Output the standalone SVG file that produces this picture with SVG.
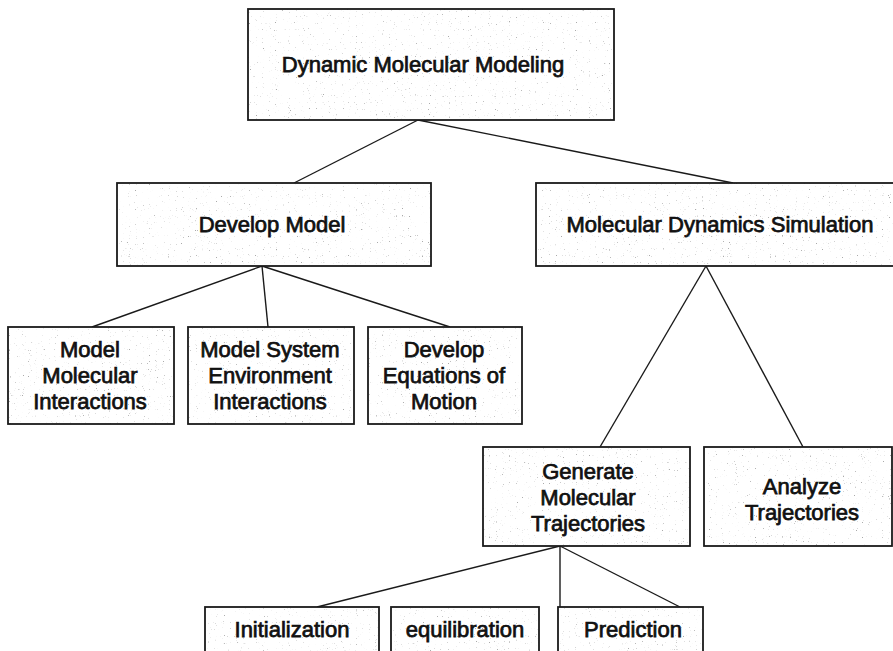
<svg xmlns="http://www.w3.org/2000/svg" width="893" height="651" viewBox="0 0 893 651">
  <defs>
    <filter id="speck" x="0" y="0" width="100%" height="100%">
      <feTurbulence type="fractalNoise" baseFrequency="0.85" numOctaves="1" seed="7" result="n"/>
      <feColorMatrix in="n" type="matrix" values="0 0 0 0 0.4  0 0 0 0 0.4  0 0 0 0 0.4  9 0 0 0 -6.1" result="d"/>
      <feComposite in="d" in2="SourceAlpha" operator="in" result="dc"/>
      <feMerge><feMergeNode in="SourceGraphic"/><feMergeNode in="dc"/></feMerge>
    </filter>
  </defs>
  <style>
    .bg { fill: #ffffff; filter: url(#speck); }
    .box { fill: none; stroke: #1a1a1a; stroke-width: 1.8; }
    .lbl { font-family: "Liberation Sans", Arial, Helvetica, sans-serif; font-size: 22px; fill: #111; stroke: #111; stroke-width: 0.75; text-anchor: middle; }
    .conn { stroke: #1a1a1a; stroke-width: 1.4; fill: none; }
  </style>
  <rect x="0" y="0" width="893" height="651" fill="#ffffff"/>

  <g id="connectors">
    <line class="conn" x1="418" y1="120" x2="294" y2="183"/>
    <line class="conn" x1="418" y1="120" x2="733" y2="183"/>
    <line class="conn" x1="262" y1="266" x2="92" y2="327"/>
    <line class="conn" x1="262" y1="266" x2="268" y2="327"/>
    <line class="conn" x1="262" y1="266" x2="450" y2="327"/>
    <line class="conn" x1="706" y1="266" x2="600" y2="447"/>
    <line class="conn" x1="706" y1="266" x2="803" y2="447"/>
    <line class="conn" x1="560" y1="546" x2="317" y2="607"/>
    <line class="conn" x1="560" y1="546" x2="560" y2="607"/>
    <line class="conn" x1="560" y1="546" x2="680" y2="607"/>
  </g>

  <g id="dynamic-molecular-modeling">
    <rect class="bg" x="248" y="9" width="366" height="111"/>
    <rect class="box" x="248" y="9" width="366" height="111"/>
    <text class="lbl" x="423" y="72">Dynamic Molecular Modeling</text>
  </g>

  <g id="develop-model">
    <rect class="bg" x="117" y="183" width="314" height="83"/>
    <rect class="box" x="117" y="183" width="314" height="83"/>
    <text class="lbl" x="272" y="232">Develop Model</text>
  </g>

  <g id="md-simulation">
    <rect class="bg" x="536" y="183" width="370" height="83"/>
    <rect class="box" x="536" y="183" width="370" height="83"/>
    <text class="lbl" x="720" y="232">Molecular Dynamics Simulation</text>
  </g>

  <g id="model-molecular-interactions">
    <rect class="bg" x="8" y="327" width="166" height="97"/>
    <rect class="box" x="8" y="327" width="166" height="97"/>
    <text class="lbl" x="90" y="357">Model</text>
    <text class="lbl" x="90" y="383">Molecular</text>
    <text class="lbl" x="90" y="409">Interactions</text>
  </g>

  <g id="model-system-environment">
    <rect class="bg" x="188" y="327" width="166" height="97"/>
    <rect class="box" x="188" y="327" width="166" height="97"/>
    <text class="lbl" x="270" y="357">Model System</text>
    <text class="lbl" x="270" y="383">Environment</text>
    <text class="lbl" x="270" y="409">Interactions</text>
  </g>

  <g id="develop-equations">
    <rect class="bg" x="368" y="327" width="154" height="97"/>
    <rect class="box" x="368" y="327" width="154" height="97"/>
    <text class="lbl" x="444" y="357">Develop</text>
    <text class="lbl" x="444" y="383">Equations of</text>
    <text class="lbl" x="444" y="409">Motion</text>
  </g>

  <g id="generate-trajectories">
    <rect class="bg" x="483" y="447" width="207" height="99"/>
    <rect class="box" x="483" y="447" width="207" height="99"/>
    <text class="lbl" x="588" y="479">Generate</text>
    <text class="lbl" x="588" y="505">Molecular</text>
    <text class="lbl" x="588" y="531">Trajectories</text>
  </g>

  <g id="analyze-trajectories">
    <rect class="bg" x="704" y="447" width="188" height="99"/>
    <rect class="box" x="704" y="447" width="188" height="99"/>
    <text class="lbl" x="802" y="494">Analyze</text>
    <text class="lbl" x="802" y="520">Trajectories</text>
  </g>

  <g id="initialization">
    <rect class="bg" x="205" y="607" width="174" height="60"/>
    <rect class="box" x="205" y="607" width="174" height="60"/>
    <text class="lbl" x="292" y="637">Initialization</text>
  </g>

  <g id="equilibration">
    <rect class="bg" x="391" y="607" width="148" height="60"/>
    <rect class="box" x="391" y="607" width="148" height="60"/>
    <text class="lbl" x="465" y="637">equilibration</text>
  </g>

  <g id="prediction">
    <rect class="bg" x="558" y="607" width="145" height="60"/>
    <rect class="box" x="558" y="607" width="145" height="60"/>
    <text class="lbl" x="633" y="637">Prediction</text>
  </g>
</svg>
